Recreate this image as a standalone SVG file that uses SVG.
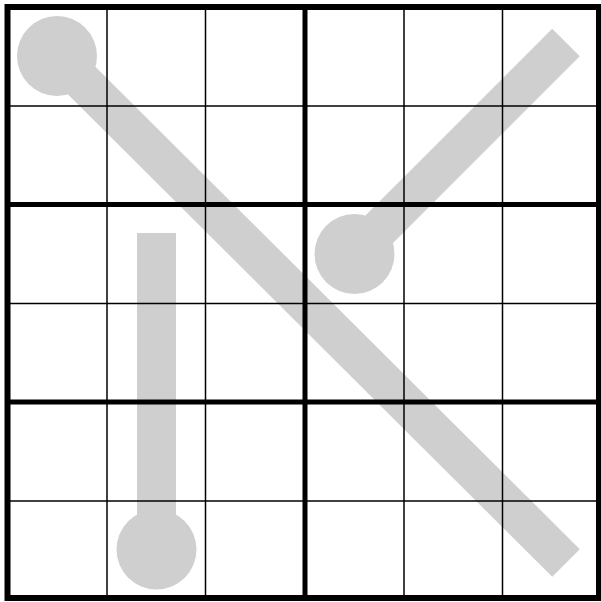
<svg xmlns="http://www.w3.org/2000/svg" width="601" height="602" viewBox="0 0 601 602">
  <style>
    .thermo line { stroke: #cfcfcf; stroke-width: 39; stroke-linecap: butt; }
    .thermo circle { fill: #cfcfcf; }
    .thin { stroke: #000; stroke-width: 1.5; }
    .thick { stroke: #000; stroke-width: 5; }
  </style>
  <rect x="0" y="0" width="601" height="602" fill="#ffffff"/>
  <g id="thermometers">
    <g id="thermo-diagonal" class="thermo">
      <line x1="57" y1="56" x2="566" y2="563"/>
      <circle cx="57" cy="56" r="40"/>
    </g>
    <g id="thermo-up-right" class="thermo">
      <line x1="354.5" y1="254" x2="566" y2="42.5"/>
      <circle cx="354.5" cy="254" r="40"/>
    </g>
    <g id="thermo-vertical" class="thermo">
      <line x1="156.5" y1="549.5" x2="156.5" y2="233"/>
      <circle cx="156.5" cy="549.5" r="40"/>
    </g>
  </g>
  <g id="grid">
    <g class="thin">
      <line x1="107" y1="7" x2="107" y2="598"/>
      <line x1="205.5" y1="7" x2="205.5" y2="598"/>
      <line x1="404" y1="7" x2="404" y2="598"/>
      <line x1="502.5" y1="7" x2="502.5" y2="598"/>
      <line x1="7.5" y1="106" x2="599" y2="106"/>
      <line x1="7.5" y1="303.5" x2="599" y2="303.5"/>
      <line x1="7.5" y1="501" x2="599" y2="501"/>
    </g>
    <g class="thick">
      <line x1="305" y1="7" x2="305" y2="598"/>
      <line x1="7.5" y1="204.5" x2="599" y2="204.5"/>
      <line x1="7.5" y1="402" x2="599" y2="402"/>
    </g>
    <rect x="7.5" y="7" width="591.5" height="591" fill="none" stroke="#000" stroke-width="6"/>
  </g>
</svg>
